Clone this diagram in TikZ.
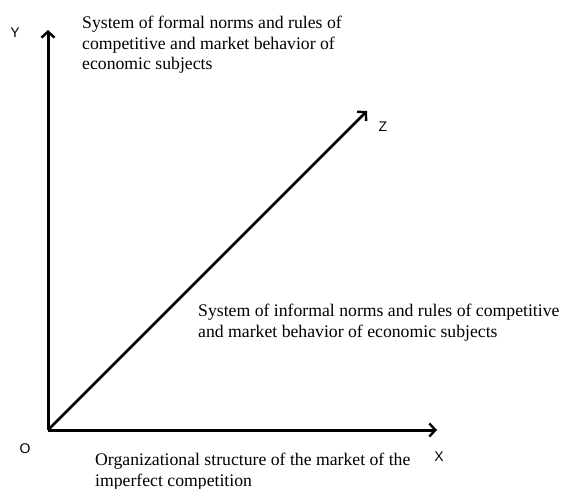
\documentclass[tikz,border=0pt]{standalone}
\usepackage{fontspec}
\setmainfont{Liberation Serif}
\newfontfamily\axisfont{Liberation Sans}
\usetikzlibrary{arrows.meta}

\begin{document}
\begin{tikzpicture}[x=1pt,y=-1pt]
            \tikzset{axis/.style={line width=3pt,-{Straight Barb[length=6pt,width=13pt,line width=2.4pt]}},
                     lbl/.style={font=\axisfont\fontsize{14}{16}\selectfont,inner sep=0pt},
                     txt/.style={font=\fontsize{17.7}{20.5}\selectfont,align=left,anchor=base west,inner sep=0pt}}
            \useasboundingbox (0,0) rectangle (562,489);
            \coordinate (o) at (48,430);
            \coordinate (ytip) at (48,30);
            \coordinate (xtip) at (437,430);
            \coordinate (ztip) at (367,111);
            % axes
            \draw[axis] (o) -- (ytip);
            \draw[axis] (o) -- (xtip);
            \draw[axis,line width=2.6pt] (o) -- (ztip);
            \node[lbl] (ylab) at (15,33) {Y};
            \node[lbl] (olab) at (25,449) {O};
            \node[lbl] (xlab) at (439,457) {X};
            \node[lbl] (zlab) at (383,127) {Z};
            % descriptions (anchored at the baseline of their last line)
            \node[txt] (formal) at (82,70) {System of formal norms and rules of\\competitive and market behavior of\\economic subjects};
            \node[txt] (informal) at (198,337) {System of informal norms and rules of competitive\\and market behavior of economic subjects};
            \node[txt] (organiz) at (95,486) {Organizational structure of the market of the\\imperfect competition};
          \end{tikzpicture}
\end{document}
